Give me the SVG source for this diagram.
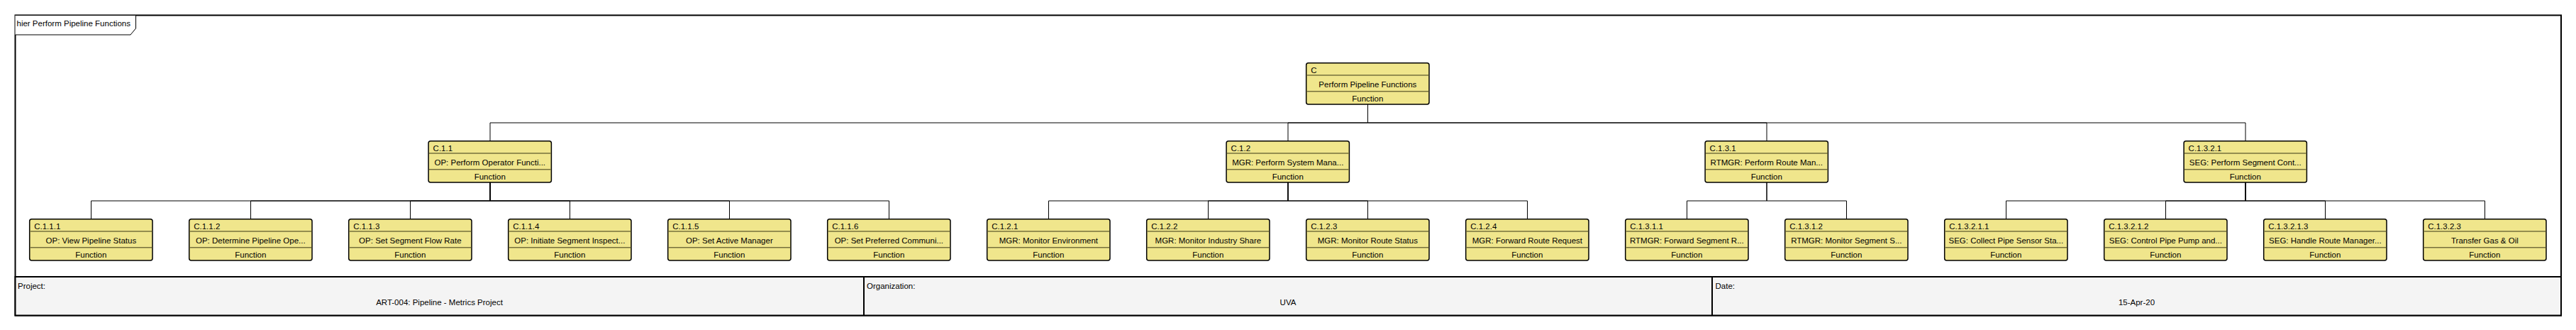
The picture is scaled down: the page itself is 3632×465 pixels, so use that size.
<svg xmlns="http://www.w3.org/2000/svg" width="3632" height="465" viewBox="0 0 3632 465">
<style>
text{font-family:"Liberation Sans",Arial,sans-serif;font-size:11.5px;fill:#000}
.box{fill:#f0e68c;stroke:#000;stroke-width:1.5}
.div{stroke:#76703c;stroke-width:1.6}
.mid{text-anchor:middle}
.conn path{fill:none;stroke:#000;stroke-width:1}
.frame{fill:#fff;stroke:#000;stroke-width:2}
.foot{fill:#f4f4f4;stroke:#000;stroke-width:2}
</style>
<defs>
<g id="nb">
<rect class="box" x="0" y="0" width="173.3" height="58.3" rx="3"/>
<line class="div" x1="0.8" y1="17.3" x2="172.5" y2="17.3"/>
<line class="div" x1="0.8" y1="40" x2="172.5" y2="40"/>
<text class="mid" x="86.65" y="54">Function</text>
</g>
</defs>
<rect class="frame" x="21.5" y="21.5" width="3589.5" height="423"/>
<g id="frame-tab">
<path d="M21.5,21.5 H191.5 V40 L184,49 H21.5" fill="#fff" stroke="#000" stroke-width="1"/>
<text x="23.5" y="37">hier Perform Pipeline Functions</text>
</g>
<g id="footer">
<rect class="foot" x="21.5" y="390" width="3589.5" height="54.5"/>
<line x1="1218" y1="390" x2="1218" y2="444.5" stroke="#000" stroke-width="2"/>
<line x1="2414" y1="390" x2="2414" y2="444.5" stroke="#000" stroke-width="2"/>
<text x="25" y="406.5">Project:</text>
<text x="1222" y="406.5">Organization:</text>
<text x="2418.5" y="406.5">Date:</text>
<text class="mid" x="619.5" y="430">ART-004: Pipeline - Metrics Project</text>
<text class="mid" x="1816" y="430">UVA</text>
<text class="mid" x="3012.5" y="430">15-Apr-20</text>
</g>
<g class="conn" id="connectors">
<path d="M1928.5,147 V173 H691 V199"/>
<path d="M1928.5,147 V173 H1816 V199"/>
<path d="M1928.5,147 V173 H2491 V199"/>
<path d="M1928.5,147 V173 H3166 V199"/>
<path d="M691,257 V283 H128.5 V308.7"/>
<path d="M691,257 V283 H353.5 V308.7"/>
<path d="M691,257 V283 H578.5 V308.7"/>
<path d="M691,257 V283 H803.5 V308.7"/>
<path d="M691,257 V283 H1028.5 V308.7"/>
<path d="M691,257 V283 H1253.5 V308.7"/>
<path d="M1816,257 V283 H1478.5 V308.7"/>
<path d="M1816,257 V283 H1703.5 V308.7"/>
<path d="M1816,257 V283 H1928.5 V308.7"/>
<path d="M1816,257 V283 H2153.5 V308.7"/>
<path d="M2491,257 V283 H2378.5 V308.7"/>
<path d="M2491,257 V283 H2603.5 V308.7"/>
<path d="M3166,257 V283 H2828.5 V308.7"/>
<path d="M3166,257 V283 H3053.5 V308.7"/>
<path d="M3166,257 V283 H3278.5 V308.7"/>
<path d="M3166,257 V283 H3503.5 V308.7"/>
</g>
<g id="n-C" transform="translate(1841.7,88.7)"><use href="#nb"/><text x="6.5" y="14">C</text><text class="mid" x="86.65" y="34">Perform Pipeline Functions</text></g>
<g id="n-C.1.1" transform="translate(604.1,198.7)"><use href="#nb"/><text x="6.5" y="14">C.1.1</text><text class="mid" x="86.65" y="34">OP: Perform Operator Functi...</text></g>
<g id="n-C.1.2" transform="translate(1729.1,198.7)"><use href="#nb"/><text x="6.5" y="14">C.1.2</text><text class="mid" x="86.65" y="34">MGR: Perform System Mana...</text></g>
<g id="n-C.1.3.1" transform="translate(2404.1,198.7)"><use href="#nb"/><text x="6.5" y="14">C.1.3.1</text><text class="mid" x="86.65" y="34">RTMGR: Perform Route Man...</text></g>
<g id="n-C.1.3.2.1" transform="translate(3079.1,198.7)"><use href="#nb"/><text x="6.5" y="14">C.1.3.2.1</text><text class="mid" x="86.65" y="34">SEG: Perform Segment Cont...</text></g>
<g id="n-C.1.1.1" transform="translate(41.7,308.7)"><use href="#nb"/><text x="6.5" y="14">C.1.1.1</text><text class="mid" x="86.65" y="34">OP: View Pipeline Status</text></g>
<g id="n-C.1.1.2" transform="translate(266.7,308.7)"><use href="#nb"/><text x="6.5" y="14">C.1.1.2</text><text class="mid" x="86.65" y="34">OP: Determine Pipeline Ope...</text></g>
<g id="n-C.1.1.3" transform="translate(491.7,308.7)"><use href="#nb"/><text x="6.5" y="14">C.1.1.3</text><text class="mid" x="86.65" y="34">OP: Set Segment Flow Rate</text></g>
<g id="n-C.1.1.4" transform="translate(716.7,308.7)"><use href="#nb"/><text x="6.5" y="14">C.1.1.4</text><text class="mid" x="86.65" y="34">OP: Initiate Segment Inspect...</text></g>
<g id="n-C.1.1.5" transform="translate(941.7,308.7)"><use href="#nb"/><text x="6.5" y="14">C.1.1.5</text><text class="mid" x="86.65" y="34">OP: Set Active Manager</text></g>
<g id="n-C.1.1.6" transform="translate(1166.7,308.7)"><use href="#nb"/><text x="6.5" y="14">C.1.1.6</text><text class="mid" x="86.65" y="34">OP: Set Preferred Communi...</text></g>
<g id="n-C.1.2.1" transform="translate(1391.7,308.7)"><use href="#nb"/><text x="6.5" y="14">C.1.2.1</text><text class="mid" x="86.65" y="34">MGR: Monitor Environment</text></g>
<g id="n-C.1.2.2" transform="translate(1616.7,308.7)"><use href="#nb"/><text x="6.5" y="14">C.1.2.2</text><text class="mid" x="86.65" y="34">MGR: Monitor Industry Share</text></g>
<g id="n-C.1.2.3" transform="translate(1841.7,308.7)"><use href="#nb"/><text x="6.5" y="14">C.1.2.3</text><text class="mid" x="86.65" y="34">MGR: Monitor Route Status</text></g>
<g id="n-C.1.2.4" transform="translate(2066.7,308.7)"><use href="#nb"/><text x="6.5" y="14">C.1.2.4</text><text class="mid" x="86.65" y="34">MGR: Forward Route Request</text></g>
<g id="n-C.1.3.1.1" transform="translate(2291.7,308.7)"><use href="#nb"/><text x="6.5" y="14">C.1.3.1.1</text><text class="mid" x="86.65" y="34">RTMGR: Forward Segment R...</text></g>
<g id="n-C.1.3.1.2" transform="translate(2516.7,308.7)"><use href="#nb"/><text x="6.5" y="14">C.1.3.1.2</text><text class="mid" x="86.65" y="34">RTMGR: Monitor Segment S...</text></g>
<g id="n-C.1.3.2.1.1" transform="translate(2741.7,308.7)"><use href="#nb"/><text x="6.5" y="14">C.1.3.2.1.1</text><text class="mid" x="86.65" y="34">SEG: Collect Pipe Sensor Sta...</text></g>
<g id="n-C.1.3.2.1.2" transform="translate(2966.7,308.7)"><use href="#nb"/><text x="6.5" y="14">C.1.3.2.1.2</text><text class="mid" x="86.65" y="34">SEG: Control Pipe Pump and...</text></g>
<g id="n-C.1.3.2.1.3" transform="translate(3191.7,308.7)"><use href="#nb"/><text x="6.5" y="14">C.1.3.2.1.3</text><text class="mid" x="86.65" y="34">SEG: Handle Route Manager...</text></g>
<g id="n-C.1.3.2.3" transform="translate(3416.7,308.7)"><use href="#nb"/><text x="6.5" y="14">C.1.3.2.3</text><text class="mid" x="86.65" y="34">Transfer Gas &amp; Oil</text></g>
</svg>
